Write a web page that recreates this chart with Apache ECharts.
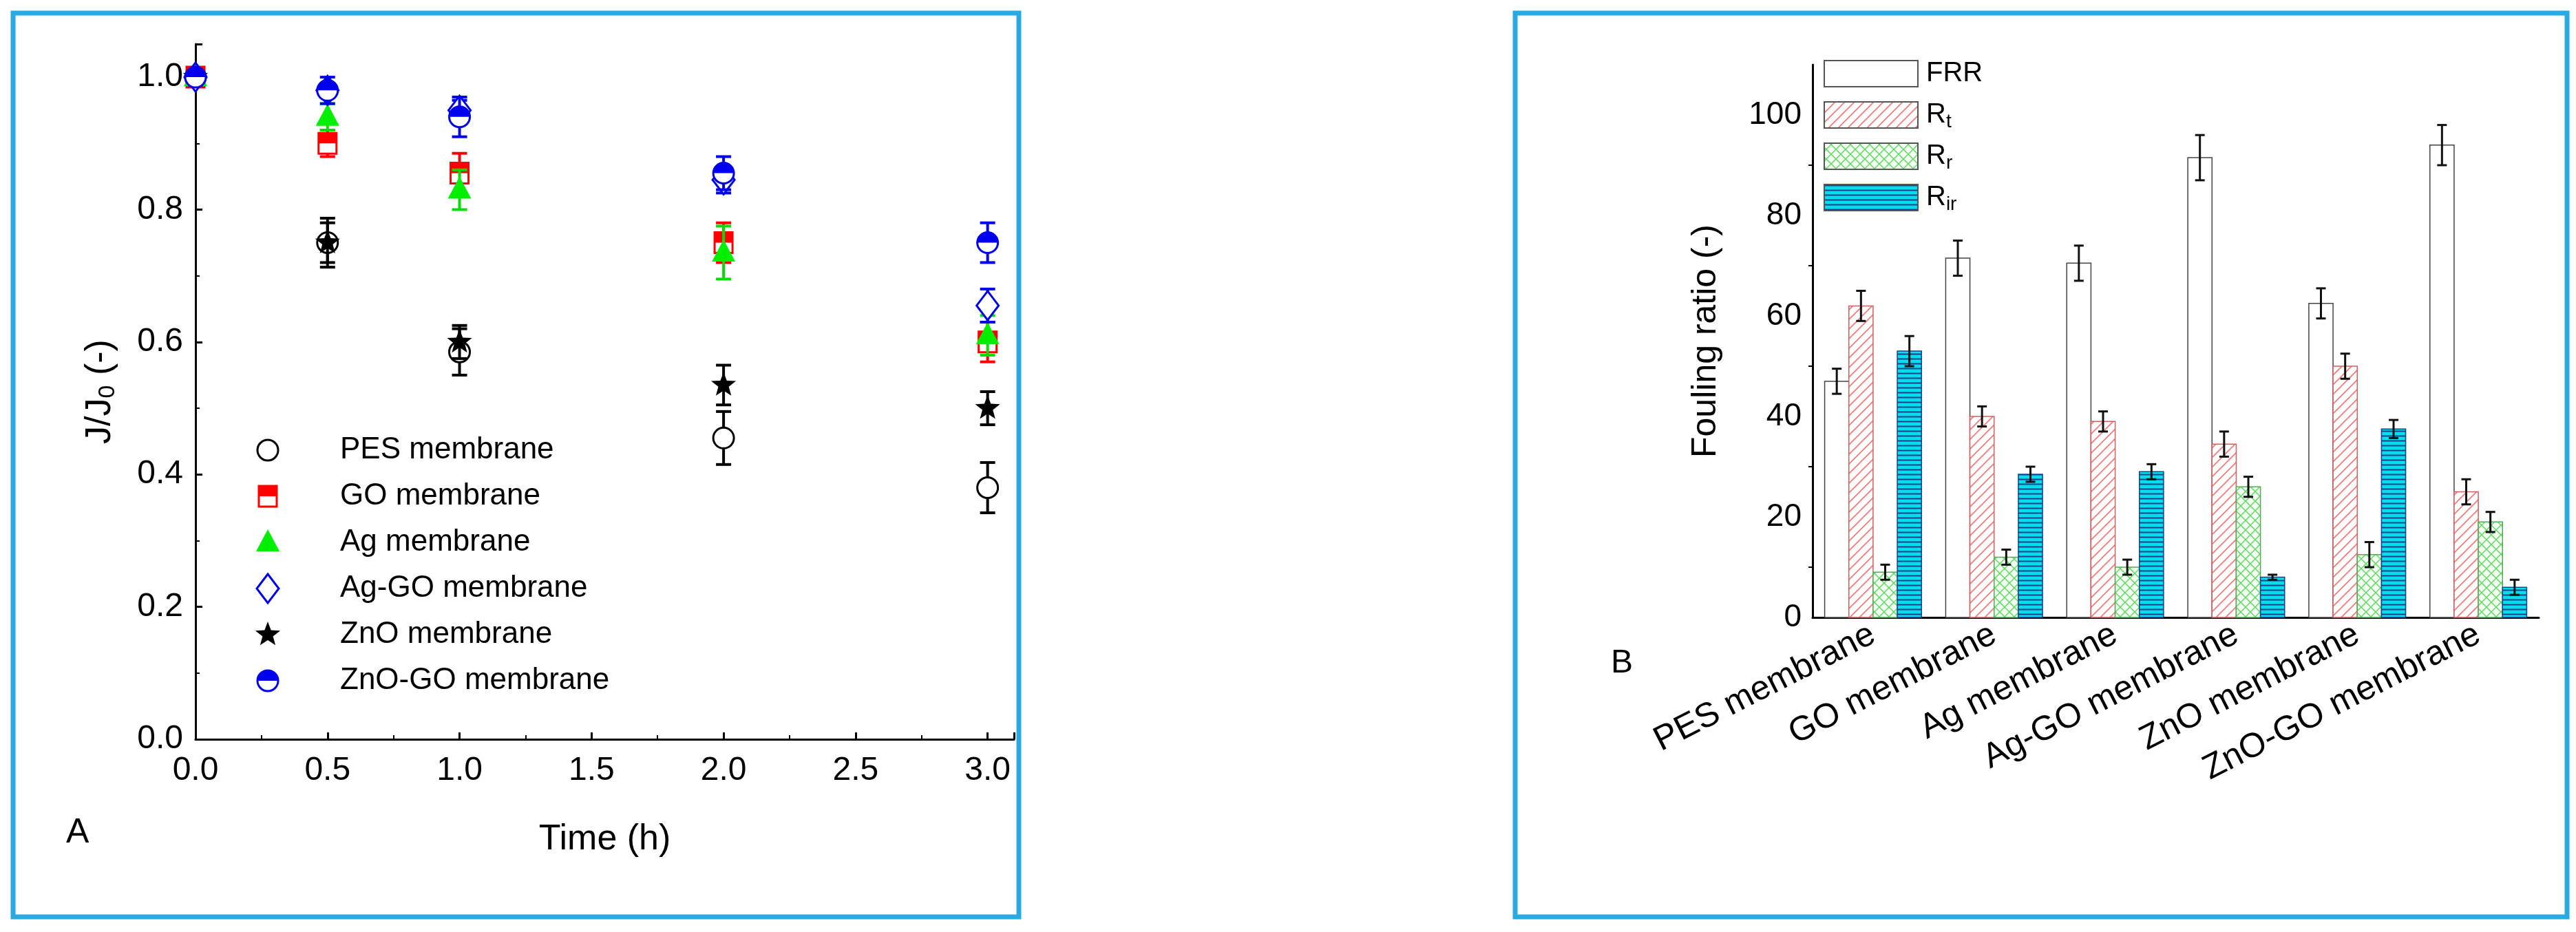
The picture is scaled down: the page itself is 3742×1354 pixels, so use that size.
<!DOCTYPE html>
<html><head><meta charset="utf-8">
<script src="https://cdn.jsdelivr.net/npm/echarts@6/dist/echarts.min.js"></script>
<style>html,body{margin:0;padding:0;background:#fff}#c{width:3742px;height:1354px}</style>
</head><body><div id="c"></div>
<script>
// ---- Panel A data ----
const timeH = [0, 0.5, 1, 2, 3];
const pesVal = [1, 0.75, 0.585, 0.455, 0.38];
const pesErr = [0, 0.037, 0.035, 0.04, 0.038];
const goVal = [1, 0.90, 0.855, 0.75, 0.60];
const goErr = [0.01, 0.02, 0.03, 0.03, 0.03];
const agVal = [1, 0.94, 0.83, 0.735, 0.61];
const agErr = [0, 0.02, 0.03, 0.04, 0.03];
const agGoVal = [1, 0.98, 0.95, 0.845, 0.655];
const agGoErr = [0, 0.01, 0.015, 0.02, 0.025];
const znoVal = [1, 0.75, 0.60, 0.535, 0.50];
const znoErr = [0, 0.03, 0.025, 0.03, 0.025];
const znoGoVal = [1, 0.98, 0.94, 0.855, 0.75];
const znoGoErr = [0, 0.02, 0.03, 0.025, 0.03];
const seriesANames = ['PES membrane','GO membrane','Ag membrane','Ag-GO membrane','ZnO membrane','ZnO-GO membrane'];
// ---- Panel B data ----
const membranes = ['PES membrane','GO membrane','Ag membrane','Ag-GO membrane','ZnO membrane','ZnO-GO membrane'];
const frrVal = [47, 71.5, 70.5, 91.5, 62.5, 94];
const frrErr = [2.5, 3.5, 3.5, 4.5, 3, 4];
const rtVal = [62, 40, 39, 34.5, 50, 25];
const rtErr = [3, 2, 2, 2.5, 2.5, 2.5];
const rrVal = [9, 12, 10, 26, 12.5, 19];
const rrErr = [1.5, 1.5, 1.5, 2, 2.5, 2];
const rirVal = [53, 28.5, 29, 8, 37.5, 6];
const rirErr = [3, 1.5, 1.5, 0.5, 1.8, 1.5];

function pat(draw, bg){const c=document.createElement('canvas');c.width=14;c.height=14;const g=c.getContext('2d');g.fillStyle=bg;g.fillRect(0,0,14,14);draw(g);return {image:c,repeat:'repeat'};}
function diag(g,dir){g.beginPath();if(dir>0){g.moveTo(-2,16);g.lineTo(16,-2);g.moveTo(-2,2);g.lineTo(2,-2);g.moveTo(12,16);g.lineTo(16,12);}else{g.moveTo(-2,-2);g.lineTo(16,16);g.moveTo(12,-2);g.lineTo(16,2);g.moveTo(-2,12);g.lineTo(2,16);}g.stroke();}
const fillFRR='#ffffff';
const fillRt=pat(g=>{g.strokeStyle='#f07878';g.lineWidth=1.6;diag(g,1);},'#fff');
const fillRr=pat(g=>{g.strokeStyle='#5cd65c';g.lineWidth=1.4;diag(g,1);diag(g,-1);},'#f4fff4');
const fillRir=pat(g=>{g.strokeStyle='#1d3f8c';g.lineWidth=2;g.beginPath();g.moveTo(0,3.5);g.lineTo(14,3.5);g.moveTo(0,10.5);g.lineTo(14,10.5);g.stroke();},'#00e0ec');
const barFills=[fillFRR,fillRt,fillRr,fillRir];
const barStroke=['#444','#d06060','#55aa55','#1d3f8c'];

function marker(type,cx,cy){
  const lw=3;
  switch(type){
    case 0: return [{type:'circle',shape:{cx,cy,r:15},style:{fill:'#fff',stroke:'#000',lineWidth:lw}}];
    case 1: return [{type:'rect',shape:{x:cx-13,y:cy-15,width:26,height:30},style:{fill:'#fff',stroke:'#f00',lineWidth:lw}},
                    {type:'rect',shape:{x:cx-13,y:cy-15,width:26,height:15},style:{fill:'#f00'}}];
    case 2: return [{type:'polygon',shape:{points:[[cx,cy-19],[cx+17,cy+13],[cx-17,cy+13]]},style:{fill:'#00ee00'}}];
    case 3: return [{type:'polygon',shape:{points:[[cx,cy-21],[cx+16,cy],[cx,cy+21],[cx-16,cy]]},style:{fill:'#fff',stroke:'#0000ee',lineWidth:lw}}];
    case 4: {const p=[];for(let i=0;i<10;i++){const r=i%2?8:19;const a=-Math.PI/2+i*Math.PI/5;p.push([cx+r*Math.cos(a),cy+r*Math.sin(a)]);}
             return [{type:'polygon',shape:{points:p},style:{fill:'#000'}}];}
    case 5: return [{type:'circle',shape:{cx,cy,r:15},style:{fill:'#fff',stroke:'#0000ee',lineWidth:lw}},
                    {type:'sector',shape:{cx,cy,r:15,r0:0,startAngle:Math.PI,endAngle:2*Math.PI},style:{fill:'#0000ee'}}];
  }
}
const aColors=['#000','#f00','#00dd00','#0000ee','#000','#0000ee'];
const aVals=[pesVal,goVal,agVal,agGoVal,znoVal,znoGoVal];
const aErrs=[pesErr,goErr,agErr,agGoErr,znoErr,znoGoErr];

const series=[];
aVals.forEach((vals,k)=>{
  series.push({type:'custom',name:seriesANames[k],xAxisIndex:0,yAxisIndex:0,
    data:timeH.map((t,i)=>[t,vals[i],aErrs[k][i]]),
    renderItem:(params,api)=>{
      const x=api.value(0),y=api.value(1),e=api.value(2);
      const c=api.coord([x,y]);const hi=api.coord([x,y+e]);const lo=api.coord([x,y-e]);
      const ch=[];
      if(e>0){const st={stroke:aColors[k],lineWidth:4};
        ch.push({type:'line',shape:{x1:c[0],y1:hi[1],x2:c[0],y2:lo[1]},style:st});
        ch.push({type:'line',shape:{x1:c[0]-11,y1:hi[1],x2:c[0]+11,y2:hi[1]},style:st});
        ch.push({type:'line',shape:{x1:c[0]-11,y1:lo[1],x2:c[0]+11,y2:lo[1]},style:st});}
      marker(k,c[0],c[1]).forEach(m=>ch.push(m));
      return {type:'group',children:ch};
    }});
});
const bVals=[frrVal,rtVal,rrVal,rirVal],bErrs=[frrErr,rtErr,rrErr,rirErr];
bVals.forEach((vals,k)=>{
  series.push({type:'custom',name:['FRR','Rt','Rr','Rir'][k],xAxisIndex:1,yAxisIndex:1,
    data:vals.map((v,i)=>[i,v,bErrs[k][i]]),
    renderItem:(params,api)=>{
      const i=api.value(0),v=api.value(1),e=api.value(2);
      const c=api.coord([i,v]);const base=api.coord([i,0]);const bw=api.size([1,0])[0];
      const w=bw*0.2;const x0=c[0]-2*w+k*w;const xm=x0+w/2;
      const hi=api.coord([i,v+e])[1],lo=api.coord([i,v-e])[1];
      const st={stroke:'#111',lineWidth:3};
      return {type:'group',children:[
        {type:'rect',shape:{x:x0,y:c[1],width:w,height:base[1]-c[1]},style:{fill:barFills[k],stroke:barStroke[k],lineWidth:1.5}},
        {type:'line',shape:{x1:xm,y1:hi,x2:xm,y2:lo},style:st},
        {type:'line',shape:{x1:xm-7,y1:hi,x2:xm+7,y2:hi},style:st},
        {type:'line',shape:{x1:xm-7,y1:lo,x2:xm+7,y2:lo},style:st}]};
    }});
});

const narrow='"Liberation Sans Narrow","Liberation Sans",Arial,sans-serif';
const sans='"Liberation Sans",Arial,sans-serif';
const graphic=[
  {type:'rect',shape:{x:19,y:19,width:1461,height:1313},style:{fill:'none',stroke:'#29abe2',lineWidth:7}},
  {type:'rect',shape:{x:2201,y:19,width:1528,height:1313},style:{fill:'none',stroke:'#29abe2',lineWidth:7}},
  {type:'text',x:96,y:1185,style:{text:'A',font:'50px '+narrow,fill:'#000'}},
  {type:'text',x:2340,y:940,style:{text:'B',font:'48px '+sans,fill:'#000'}}
];
seriesANames.forEach((n,k)=>{
  const cy=654+k*67;
  marker(k,389,cy).forEach(m=>graphic.push(m));
  graphic.push({type:'text',x:494,y:cy,style:{text:n,font:'44px '+narrow,fill:'#000',verticalAlign:'middle'}});
});
const legB=[['FRR',''],['R','t'],['R','r'],['R','ir']];
legB.forEach((l,k)=>{
  const cy=107+k*60;
  graphic.push({type:'rect',shape:{x:2650,y:cy-19,width:136,height:38},style:{fill:barFills[k],stroke:'#555',lineWidth:2}});
  graphic.push({type:'text',x:2798,y:cy,style:{text:'{a|'+l[0]+'}{s|'+l[1]+'}',verticalAlign:'middle',fill:'#000',
    rich:{a:{fontSize:40,fontFamily:sans},s:{fontSize:28,fontFamily:sans,padding:[20,0,0,0]}}}});
});

const chart=echarts.init(document.getElementById('c'));
chart.setOption({
  animation:false,
  grid:[{left:284,top:64,right:2269,bottom:280},{left:2633,top:94,right:54,bottom:457}],
  xAxis:[
    {type:'value',gridIndex:0,min:0,max:3.1,interval:0.5,splitLine:{show:false},
     axisLine:{onZero:false,lineStyle:{color:'#000',width:3}},
     axisTick:{inside:true,length:10,lineStyle:{width:3}},minorTick:{show:true,splitNumber:2,length:6,lineStyle:{color:'#000',width:2}},
     axisLabel:{color:'#000',fontSize:48,fontFamily:narrow,margin:22,formatter:v=>v.toFixed(1),showMaxLabel:false},
     name:'Time (h)',nameLocation:'middle',nameGap:120,nameTextStyle:{color:'#000',fontSize:52,fontFamily:narrow}},
    {type:'category',gridIndex:1,data:membranes,
     axisLine:{lineStyle:{color:'#000',width:3}},axisTick:{alignWithLabel:true,length:12,lineStyle:{width:3}},
     axisLabel:{color:'#000',fontSize:50,fontFamily:sans,rotate:27,margin:22,interval:0}}
  ],
  yAxis:[
    {type:'value',gridIndex:0,min:0,max:1.05,interval:0.2,splitLine:{show:false},
     axisLine:{show:true,lineStyle:{color:'#000',width:3}},
     axisTick:{inside:true,length:10,lineStyle:{width:3}},minorTick:{show:true,splitNumber:2,length:6,lineStyle:{color:'#000',width:2}},
     axisLabel:{color:'#000',fontSize:48,fontFamily:narrow,margin:18,formatter:v=>v.toFixed(1),showMaxLabel:false},
     name:'{a|J/J}{s|0}{a| (-)}',nameLocation:'middle',nameGap:110,
     nameTextStyle:{rich:{a:{fontSize:52,fontFamily:narrow,color:'#000'},s:{fontSize:34,fontFamily:narrow,color:'#000',padding:[22,0,0,0]}}}},
    {type:'value',gridIndex:1,min:0,max:110,interval:20,splitLine:{show:false},
     axisLine:{show:true,lineStyle:{color:'#000',width:3}},
     axisTick:{length:10,lineStyle:{width:3}},minorTick:{show:true,splitNumber:2,length:6,lineStyle:{color:'#000',width:2}},
     axisLabel:{color:'#000',fontSize:46,fontFamily:sans,margin:16,showMaxLabel:false},
     name:'Fouling ratio (-)',nameLocation:'middle',nameGap:130,nameTextStyle:{color:'#000',fontSize:50,fontFamily:sans}}
  ],
  series:series,
  graphic:graphic
});
</script></body></html>
